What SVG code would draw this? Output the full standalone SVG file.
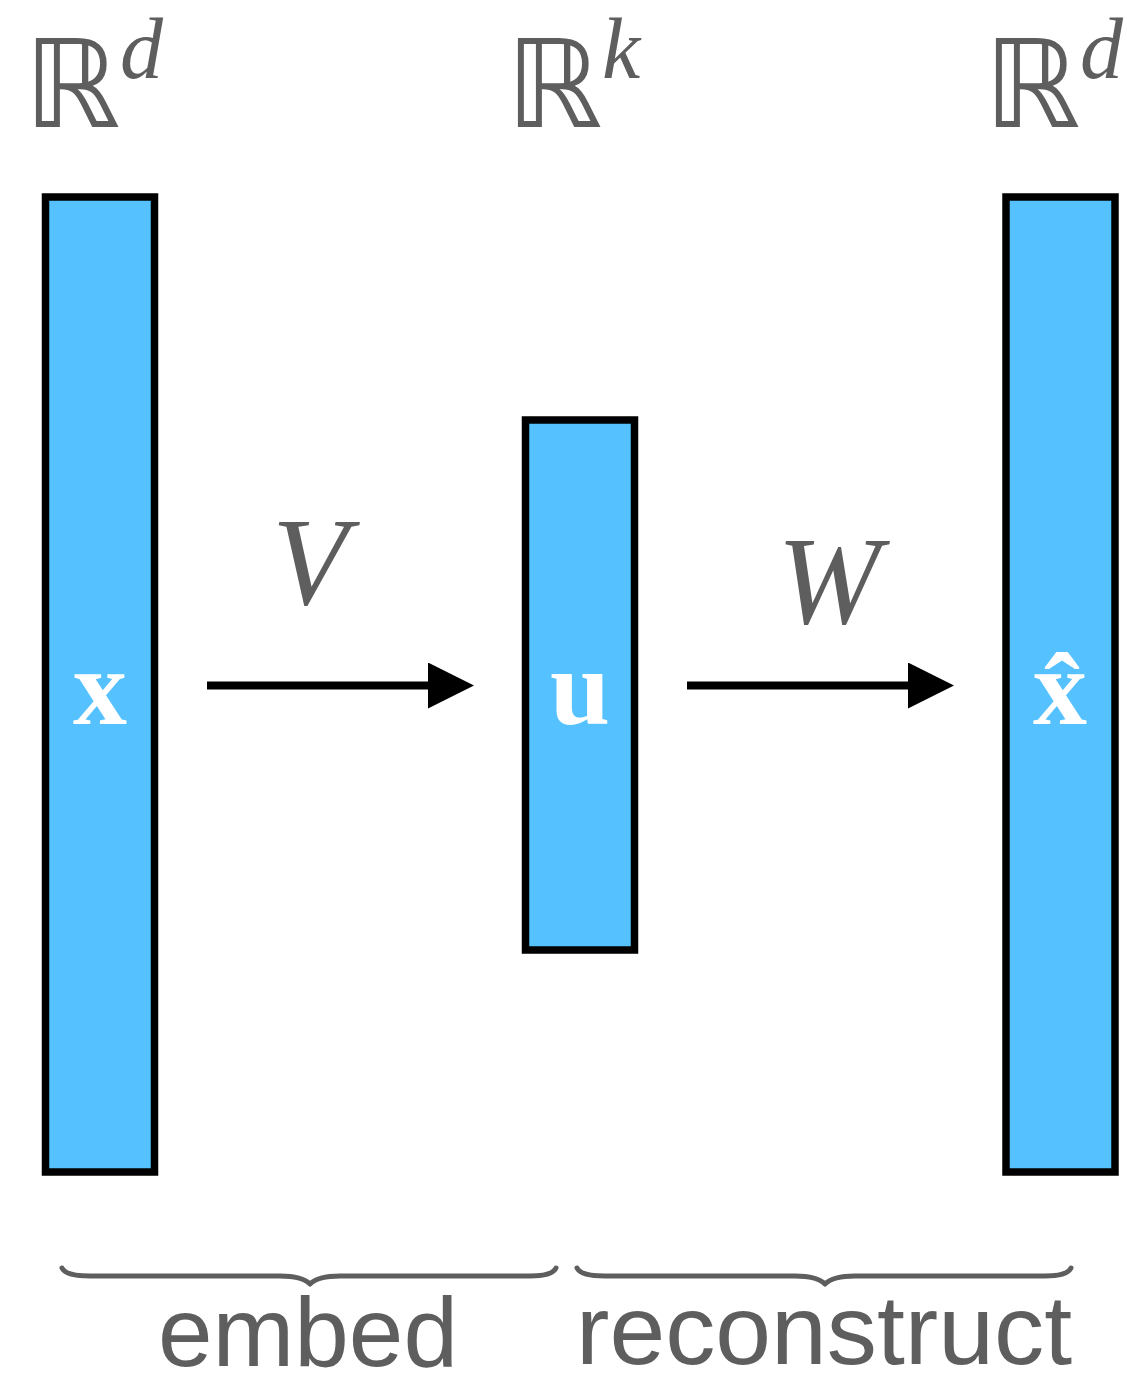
<svg xmlns="http://www.w3.org/2000/svg" width="1127" height="1379" viewBox="0 0 1127 1379">
<defs>
<style>
.box{fill:#56c1ff;stroke:#000;stroke-width:7.5}
.sym{fill:#fff;font-family:"Liberation Serif",serif;font-weight:bold;font-size:108px;text-anchor:middle}
.R{fill:#5e5e5e;font-family:"DejaVu Sans",sans-serif;font-size:122px}
.sup{fill:#5e5e5e;font-family:"Liberation Serif",serif;font-style:italic;font-size:86px}
.mat{fill:#5e5e5e;font-family:"Liberation Serif",serif;font-style:italic;font-size:124px;text-anchor:middle}
.lbl{fill:#5e5e5e;font-family:"Liberation Sans",Arial,sans-serif;font-size:98px}
.conn{stroke:#000;stroke-width:8;fill:none}
.brace{stroke:#5e5e5e;stroke-width:5;fill:none;stroke-linecap:round;stroke-linejoin:round}
</style>
<marker id="ah" markerUnits="userSpaceOnUse" markerWidth="46" markerHeight="46" refX="0" refY="23" orient="auto"><path d="M0,0 L46,23 L0,46 Z" fill="#000"/></marker>
</defs>
<g id="labels-top">
<text class="R" x="24" y="127">ℝ</text><text class="sup" x="120" y="78">d</text>
<text class="R" x="506" y="127">ℝ</text><text class="sup" x="602" y="78">k</text>
<text class="R" x="984" y="127">ℝ</text><text class="sup" x="1080" y="78">d</text>
</g>
<g id="node-x"><rect class="box" x="45.5" y="197" width="109" height="975"/><text class="sym" x="100" y="724">x</text></g>
<g id="node-u"><rect class="box" x="525.5" y="420" width="109" height="530"/><text class="sym" x="580" y="724">u</text></g>
<g id="node-xhat"><rect class="box" x="1006" y="197" width="109" height="975"/><text class="sym" x="1060" y="724">x̂</text></g>
<g id="connectors">
<line class="conn" x1="207" y1="685.5" x2="428" y2="685.5" marker-end="url(#ah)"/>
<line class="conn" x1="687" y1="685.5" x2="908" y2="685.5" marker-end="url(#ah)"/>
</g>
<text class="mat" x="310" y="604">V</text>
<text class="mat" x="829" y="623">W</text>
<g id="braces">
<path class="brace" d="M62,1268 Q66,1276 90,1276 L280,1276 Q302,1276 310,1284 Q318,1276 340,1276 L530,1276 Q552,1276 556,1268"/>
<path class="brace" d="M577,1268 Q581,1276 605,1276 L795,1276 Q817,1276 825,1284 Q833,1276 855,1276 L1045,1276 Q1067,1276 1071,1268"/>
</g>
<text class="lbl" x="158" y="1366" textLength="300" lengthAdjust="spacingAndGlyphs">embed</text>
<text class="lbl" x="576" y="1364" textLength="496" lengthAdjust="spacingAndGlyphs">reconstruct</text>
</svg>
